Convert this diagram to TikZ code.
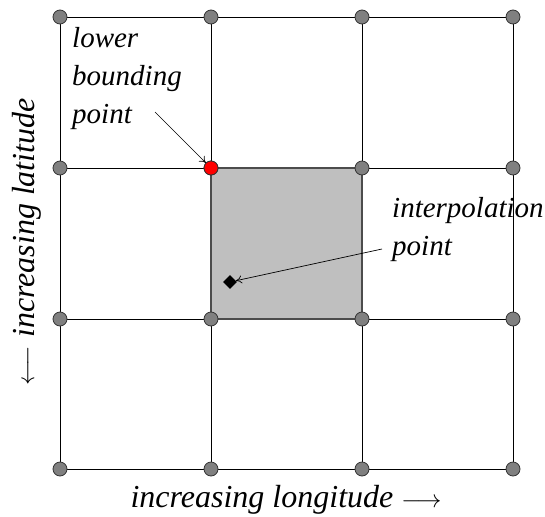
\documentclass[tikz,border=0pt]{standalone}
\usepackage{fontspec}
\setmainfont{Liberation Serif}
\usetikzlibrary{shapes.geometric,arrows.meta}
\begin{document}
\begin{tikzpicture}[x=1pt,y=-1pt,
  gridpt/.style={circle,draw=black!80,fill=black!50,line width=0.8pt,minimum size=14pt,inner sep=0pt},
  redpt/.style={circle,draw=black!80,fill=red,line width=0.8pt,minimum size=14pt,inner sep=0pt},
  lbl/.style={font=\fontsize{29}{38}\selectfont\itshape,align=left,inner sep=0pt},
  axlbl/.style={font=\fontsize{32}{38}\selectfont\itshape,inner sep=0pt},
  gline/.style={line width=0.9pt,black},
  pointer/.style={line width=0.7pt,-{To[length=6pt,width=8pt]}}]
\useasboundingbox (0,0) rectangle (545,516);
\fill[black!25] (211,168) rectangle (362,319);
\foreach \i/\x in {0/60,1/211,2/362,3/513}{
  \draw[gline] (\x,17) -- (\x,469);
}
\foreach \j/\y in {0/17,1/168,2/319,3/469}{
  \draw[gline] (60,\y) -- (513,\y);
}
\draw[line width=1.3pt,black!70] (211,168) rectangle (362,319);
\foreach \i/\x in {0/60,1/211,2/362,3/513}{
  \foreach \j/\y in {0/17,1/168,2/319,3/469}{
    \node[gridpt] (p\i\j) at (\x,\y) {};
  }
}
\node[redpt] (lb) at (211,168) {};
\node[diamond,fill=black,inner sep=0pt,minimum size=14pt] (ip) at (230,282) {};
\node[lbl,anchor=north west] (lbt) at (72,27) {lower\\bounding\\point};
\node[lbl,anchor=north west] (ipt) at (392,197) {interpolation\\point};
\coordinate (lbs) at (155,112);
\coordinate (ips) at (382,249);
\draw[pointer] (lbs) -- (lb);
\draw[pointer] (ips) -- (ip);
\node[axlbl,anchor=base] (lon) at (286,507) {increasing longitude $\longrightarrow$};
\node[axlbl,rotate=90,anchor=base] (lat) at (34,242) {$\longleftarrow$ increasing latitude};
\end{tikzpicture}
\end{document}
